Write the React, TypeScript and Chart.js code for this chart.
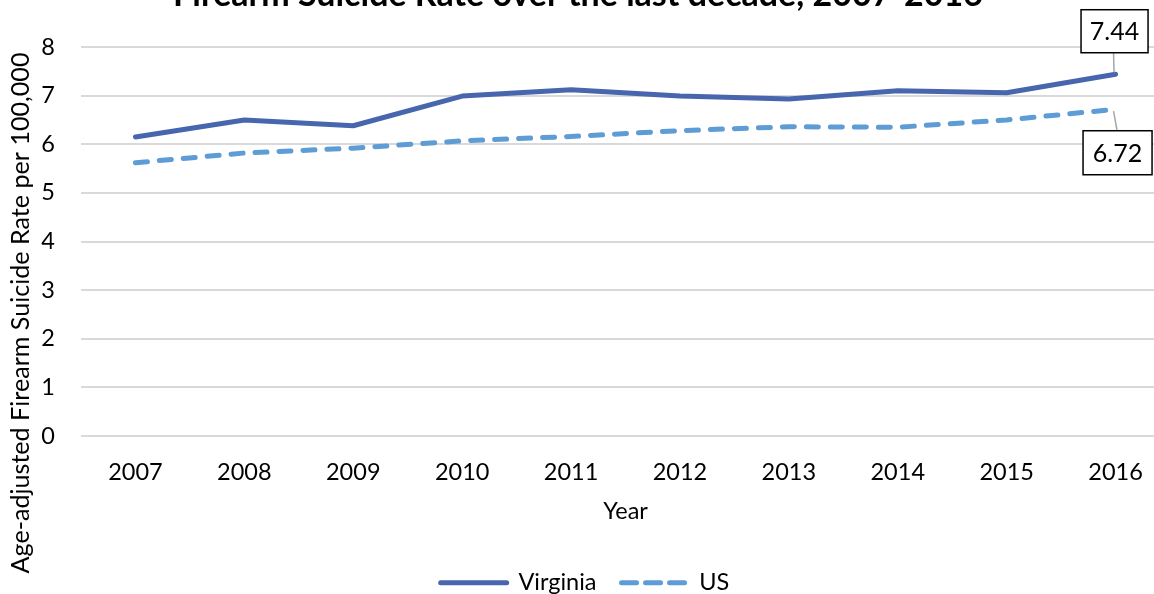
import React, { useEffect, useRef } from "react";
import { Chart, registerables } from "chart.js";

Chart.register(...registerables);

const years = ["2007", "2008", "2009", "2010", "2011", "2012", "2013", "2014", "2015", "2016"];
const virginia = [6.15, 6.5, 6.38, 6.99, 7.12, 6.99, 6.93, 7.1, 7.06, 7.44];
const us = [5.62, 5.82, 5.92, 6.07, 6.16, 6.28, 6.36, 6.35, 6.5, 6.72];
const yMin = 0;
const yMax = 8;
const yStep = 1;

const TITLE = "Firearm Suicide Rate over the last decade, 2007-2016";
const Y_TITLE = "Age-adjusted Firearm Suicide Rate per 100,000";
const X_TITLE = "Year";
const FONT = "Lato";
const VA_COLOR = "#4866AD";
const US_COLOR = "#5E9CD5";

const CANVAS_W = 1172;
const CANVAS_H = 594;

function fitFont(ctx: CanvasRenderingContext2D, text: string, weight: string, target: number) {
  const base = 20;
  ctx.font = `${weight} ${base}px ${FONT}`;
  const w = ctx.measureText(text).width;
  const size = (base * target) / w;
  ctx.font = `${weight} ${size}px ${FONT}`;
}

const decorPlugin = {
  id: "decor",
  afterDraw(chart: any) {
    const ctx: CanvasRenderingContext2D = chart.ctx;
    ctx.save();
    // Title (cut at top of the image)
    ctx.fillStyle = "#000";
    ctx.textAlign = "center";
    ctx.textBaseline = "alphabetic";
    fitFont(ctx, TITLE, "bold", 810);
    ctx.fillText(TITLE, 578, 6);

    // Y axis title
    ctx.save();
    ctx.translate(21, 313);
    ctx.rotate(-Math.PI / 2);
    ctx.textBaseline = "middle";
    fitFont(ctx, Y_TITLE, "normal", 521);
    ctx.fillText(Y_TITLE, 0, 0);
    ctx.restore();

    // Data labels for the last points
    const drawLabel = (dsIndex: number, text: string, dx: number, dy: number, w: number, h: number, lineFrom: [number, number]) => {
      const meta = chart.getDatasetMeta(dsIndex);
      const pt = meta.data[meta.data.length - 1];
      const bx = pt.x + dx;
      const by = pt.y + dy;
      ctx.strokeStyle = "#A6A6A6";
      ctx.lineWidth = 1.5;
      ctx.beginPath();
      ctx.moveTo(pt.x + lineFrom[0], pt.y + lineFrom[1]);
      ctx.lineTo(dy < 0 ? pt.x - 2 : pt.x + 1.5, dy < 0 ? by + h : by);
      ctx.stroke();
      ctx.fillStyle = "#fff";
      ctx.fillRect(bx, by, w, h);
      ctx.strokeStyle = "#000";
      ctx.lineWidth = 1.5;
      ctx.strokeRect(bx, by, w, h);
      ctx.fillStyle = "#000";
      ctx.font = `25px ${FONT}`;
      ctx.textAlign = "center";
      ctx.textBaseline = "middle";
      ctx.fillText(text, bx + w / 2, by + h / 2 + 1);
    };
    drawLabel(0, virginia[virginia.length - 1].toFixed(2), -34.5, -64.5, 67, 43, [-1.5, -2]);
    drawLabel(1, us[us.length - 1].toFixed(2), -32.5, 21.5, 69, 44, [-2, 2]);
    ctx.restore();
  },
};

export default function App() {
  const ref = useRef<HTMLCanvasElement | null>(null);

  useEffect(() => {
    if (!ref.current) return;
    const tickFont = { family: FONT, size: 23.5 };
    const chart = new Chart(ref.current, {
      type: "line",
      data: {
        labels: years,
        datasets: [
          {
            label: "Virginia",
            data: virginia,
            borderColor: VA_COLOR,
            backgroundColor: VA_COLOR,
            borderWidth: 5,
            pointRadius: 0,
            tension: 0,
            borderCapStyle: "round",
            borderJoinStyle: "round",
          },
          {
            label: "US",
            data: us,
            borderColor: US_COLOR,
            backgroundColor: US_COLOR,
            borderWidth: 5,
            pointRadius: 0,
            tension: 0,
            borderDash: [12, 12],
            borderCapStyle: "round",
            borderJoinStyle: "round",
          },
        ],
      },
      options: {
        responsive: false,
        animation: false,
        events: [],
        layout: { padding: { top: 47, left: 0, right: 2, bottom: 0 } },
        scales: {
          x: {
            type: "category",
            offset: true,
            grid: { display: false, drawTicks: false },
            border: { display: false },
            ticks: { color: "#000", font: tickFont, padding: 22, maxRotation: 0 },
            title: {
              display: true,
              text: X_TITLE,
              color: "#000",
              font: tickFont,
              padding: { top: 0, bottom: 20 },
            },
            afterFit: (s: any) => {
              s.height = 110;
            },
          },
          y: {
            min: yMin,
            max: yMax,
            grid: { color: "#D9D9D9", lineWidth: 2, drawTicks: false },
            border: { display: false },
            ticks: { stepSize: yStep, color: "#000", font: tickFont, padding: 26 },
            afterFit: (s: any) => {
              s.width = 81;
            },
          },
        },
        plugins: {
          title: { display: false },
          tooltip: { enabled: false },
          legend: {
            display: true,
            position: "bottom",
            maxHeight: 48,
            labels: {
              color: "#000",
              font: tickFont,
              usePointStyle: true,
              pointStyle: "line",
              pointStyleWidth: 66,
              padding: 25,
              generateLabels: (c: any) => {
                const items = Chart.defaults.plugins.legend.labels.generateLabels(c);
                items.forEach((it: any) => {
                  it.pointStyle = "line";
                  it.lineCap = "round";
                  if (it.datasetIndex === 1) it.lineDash = [15, 9];
                });
                return items;
              },
            },
          },
        },
      },
      plugins: [decorPlugin],
    } as any);
    return () => chart.destroy();
  }, []);

  return (
    <div
      style={{
        position: "fixed",
        left: 0,
        top: 0,
        width: 1154,
        height: 594,
        overflow: "hidden",
        background: "#fff",
      }}
    >
      <canvas
        ref={ref}
        width={CANVAS_W}
        height={CANVAS_H}
        style={{ position: "absolute", left: 0, top: 0, width: CANVAS_W, height: CANVAS_H }}
      />
    </div>
  );
}
